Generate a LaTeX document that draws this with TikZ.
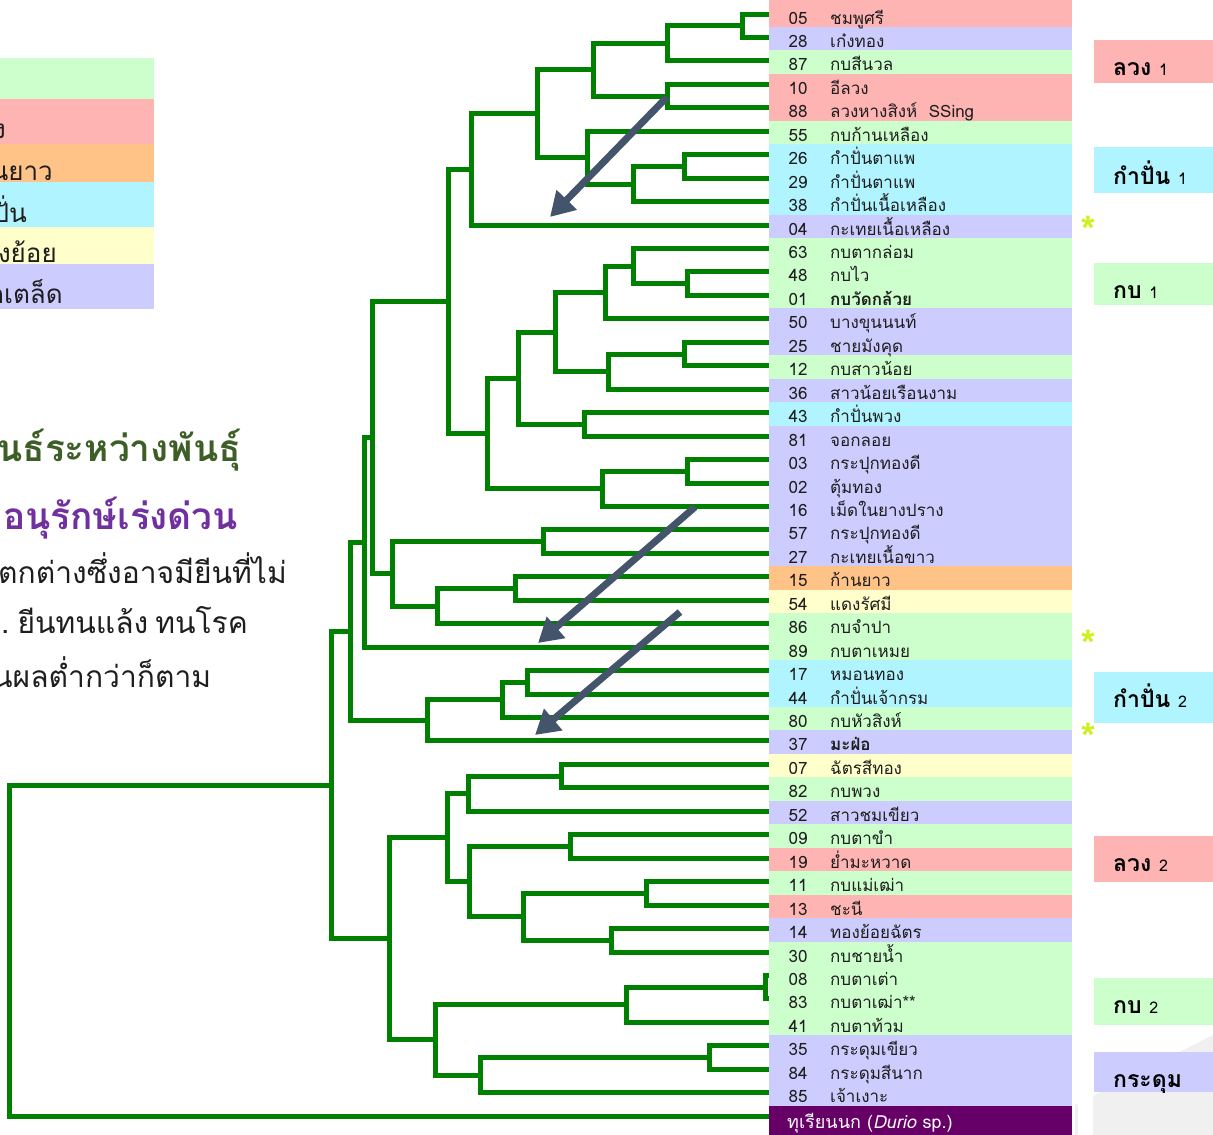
\documentclass[tikz,border=0pt]{standalone}
\usepackage{fontspec}
\setmainfont[Script=Thai]{Loma}
\newfontfamily\symfont{Liberation Sans}
\usetikzlibrary{calc,arrows.meta}
\definecolor{treegreen}{HTML}{008000}
\definecolor{pk}{HTML}{FFB4B4}
\definecolor{lv}{HTML}{CCCCFF}
\definecolor{gr}{HTML}{CCFFCC}
\definecolor{cy}{HTML}{B0F4FF}
\definecolor{orc}{HTML}{FFC387}
\definecolor{yl}{HTML}{FFFFCC}
\definecolor{du}{HTML}{660066}
\definecolor{arrc}{HTML}{44546A}
\definecolor{titlegreen}{HTML}{3D5E27}
\definecolor{titlepurple}{HTML}{7030A0}
\definecolor{astc}{HTML}{CCF020}
\definecolor{txt}{HTML}{1E1E1E}
\newcommand\jn[4]{\path let \p1=($(#3)!.5!(#4)$) in coordinate (#1) at (#2pt,\y1);
  \draw[tree] (#3) -| (#1) |- (#4);}
\begin{document}
\begin{tikzpicture}[x=1pt,y=-1pt,
  tree/.style={draw=treegreen,line width=5pt},
  arr/.style={draw=arrc,line width=7pt,-{Triangle[length=24pt,width=27pt]}},
  rowtxt/.style={inner sep=0pt,text=txt,font=\fontsize{17}{20}\selectfont},
  grptxt/.style={inner sep=0pt,anchor=base west,text=black,font=\fontsize{23}{26}\selectfont\bfseries},
  legtxt/.style={inner sep=0pt,anchor=base east,text=txt,font=\fontsize{26}{30}\selectfont},
  bodytxt/.style={inner sep=0pt,anchor=base west,text=txt,font=\fontsize{30}{34}\selectfont},
  ast/.style={inner sep=0pt,text=astc,font=\symfont\bfseries\fontsize{34}{34}\selectfont}]
\useasboundingbox (0,0) rectangle (1213,1135);
\begin{scope}
\clip (0,0) rectangle (1213,1135);
% background decoration bottom right
\fill[black!6] (1075,1135) -- (1075,1105) -- (1213,1035) -- (1213,1135) -- cycle;
\fill[white] (1078,1092) rectangle (1093,1135);
% legend
\fill[gr] (0,58) rectangle (154,99);
\fill[pk] (0,99) rectangle (154,144);
\fill[orc] (0,144) rectangle (154,182);
\fill[cy] (0,182) rectangle (154,227);
\fill[yl] (0,227) rectangle (154,264);
\fill[lv] (0,264) rectangle (154,309);
\node[legtxt] (lg1) at (6,138) {ง};
\node[legtxt] (lg2) at (53,180) {นยาว};
\node[legtxt] (lg3) at (27,222) {ปั่น};
\node[legtxt] (lg4) at (57,262) {งย้อย};
\node[legtxt] (lg5) at (63,303) {กเตล็ด};
% body text
\node[bodytxt,text=titlegreen,font=\fontsize{37}{40}\selectfont\bfseries] (t1) at (-3,461) {นธ์ระหว่างพันธุ์};
\node[bodytxt,text=titlepurple,font=\fontsize{37}{40}\selectfont\bfseries] (t2) at (3,529) {อนุรักษ์เร่งด่วน};
\node[bodytxt] (t3) at (-2,583) {ตกต่างซึ่งอาจมียีนที่ไม่};
\node[bodytxt] (t4) at (1,633) {.\hspace{8pt}ยีนทนแล้ง\hspace{7pt}ทนโรค};
\node[bodytxt] (t5) at (-8,687) {นผลต่ำกว่าก็ตาม};
% leaf coordinates
\foreach \i in {0,...,47} {\coordinate (L\i) at (769,{14+23.45*\i});}
% tree
\jn{n1}{742}{L0}{L1}
\jn{n2}{667}{n1}{L2}
\jn{n3}{667}{L3}{L4}
\jn{n4}{593}{n2}{n3}
\jn{n5}{684}{L6}{L7}
\jn{n6}{633}{n5}{L8}
\jn{n7}{587}{L5}{n6}
\jn{n8}{537}{n4}{n7}
\jn{n9}{471}{n8}{L9}
\jn{c1}{687}{L11}{L12}
\jn{c2}{633}{L10}{c1}
\jn{c3}{605}{c2}{L13}
\jn{c4}{684}{L14}{L15}
\jn{c5}{608}{c4}{L16}
\jn{c6}{555}{c3}{c5}
\jn{c7}{584}{L17}{L18}
\jn{c8}{518}{c6}{c7}
\jn{c9}{687}{L19}{L20}
\jn{c10}{602}{c9}{L21}
\jn{c11}{487}{c8}{c10}
\jn{m1}{448}{n9}{c11}
\jn{d1}{543}{L22}{L23}
\jn{d2}{515}{L24}{L25}
\jn{d3}{437}{d2}{L26}
\jn{d4}{392}{d1}{d3}
\jn{P}{372}{m1}{d4}
\jn{Q}{364}{P}{L27}
\jn{e1}{527}{L28}{L29}
\jn{e2}{502}{e1}{L30}
\jn{e3}{427}{e2}{L31}
\jn{R}{350}{Q}{e3}
\jn{f1}{561}{L32}{L33}
\jn{f2}{468}{f1}{L34}
\jn{f3}{570}{L35}{L36}
\jn{f4}{646}{L37}{L38}
\jn{f5}{611}{L39}{L40}
\jn{f6}{523}{f4}{f5}
\jn{f7}{469}{f3}{f6}
\jn{U}{447}{f2}{f7}
\jn{g1}{765}{L41}{L42}
\jn{g2}{626}{g1}{L43}
\jn{g3}{709}{L44}{L45}
\jn{g4}{480}{g3}{L46}
\jn{g5}{435}{g2}{g4}
\jn{T}{389}{U}{g5}
\jn{S}{331}{R}{T}
\jn{root}{9}{S}{L47}
% arrows
\coordinate (a1s) at (667,97);  \coordinate (a1e) at (550,217);
\coordinate (a2s) at (695,507); \coordinate (a2e) at (538,643);
\coordinate (a3s) at (680,612); \coordinate (a3e) at (535,735);
\draw[arr] (a1s) -- (a1e);
\draw[arr] (a2s) -- (a2e);
\draw[arr] (a3s) -- (a3e);
% row bands
\fill[pk] (769,0) rectangle (1072,4);
\foreach \i/\c in {0/pk,1/lv,2/gr,3/pk,4/pk,5/gr,6/cy,7/cy,8/cy,9/lv,10/gr,11/gr,12/gr,13/lv,14/lv,15/gr,16/lv,17/cy,18/lv,19/lv,20/lv,21/lv,22/lv,23/lv,24/orc,25/yl,26/gr,27/gr,28/cy,29/cy,30/gr,31/lv,32/yl,33/gr,34/lv,35/gr,36/pk,37/gr,38/pk,39/lv,40/gr,41/gr,42/gr,43/gr,44/lv,45/lv,46/lv}
  {\fill[\c] (769,{14+23.45*\i-10.5}) rectangle (1072,{14+23.45*\i+12.95});}
\fill[du] (769,{14+23.45*47-10.5}) rectangle (1072,1135);
% row texts
\foreach \i/\n/\t in {0/05/ชมพูศรี,1/28/เก๋งทอง,2/87/กบสีนวล,3/10/อีลวง,4/88/ลวงหางสิงห์~~SSing,5/55/กบก้านเหลือง,6/26/กำปั่นตาแพ,7/29/กำปั่นตาแพ,8/38/กำปั่นเนื้อเหลือง,9/04/กะเทยเนื้อเหลือง,10/63/กบตากล่อม,11/48/กบไว,12/01/{\bfseries กบวัดกล้วย},13/50/บางขุนนนท์,14/25/ชายมังคุด,15/12/กบสาวน้อย,16/36/สาวน้อยเรือนงาม,17/43/กำปั่นพวง,18/81/จอกลอย,19/03/กระปุกทองดี,20/02/ตุ้มทอง,21/16/เม็ดในยางปราง,22/57/กระปุกทองดี,23/27/กะเทยเนื้อขาว,24/15/ก้านยาว,25/54/แดงรัศมี,26/86/กบจำปา,27/89/กบตาเหมย,28/17/หมอนทอง,29/44/กำปั่นเจ้ากรม,30/80/กบหัวสิงห์,31/37/{\bfseries มะฝ่อ},32/07/ฉัตรสีทอง,33/82/กบพวง,34/52/สาวชมเขียว,35/09/กบตาขำ,36/19/ย่ำมะหวาด,37/11/กบแม่เฒ่า,38/13/ชะนี,39/14/ทองย้อยฉัตร,40/30/กบชายน้ำ,41/08/กบตาเต่า,42/83/กบตาเฒ่า**,43/41/กบตาท้วม,44/35/กระดุมเขียว,45/84/กระดุมสีนาก,46/85/เจ้าเงาะ}
  {\node[rowtxt,anchor=base] (num\i) at (798,{14+23.45*\i+10}) {\n};
   \node[rowtxt,anchor=base west] (nm\i) at (830,{14+23.45*\i+10}) {\t};}
\node[rowtxt,anchor=base west,text=white,font=\fontsize{18}{20}\selectfont] (durio) at (787,{14+23.45*47+12}) {ทุเรียนนก (\textit{Durio} sp.)};
% group labels
\fill[pk] (1094,40) rectangle (1213,83);
\fill[cy] (1094,147) rectangle (1213,193);
\fill[gr] (1094,263) rectangle (1213,305);
\fill[cy] (1094,672) rectangle (1213,723);
\fill[pk] (1094,836) rectangle (1213,882);
\fill[gr] (1094,978) rectangle (1213,1025);
\fill[lv] (1094,1052) rectangle (1213,1092);
\node[grptxt] (g-l1) at (1113,75) {ลวง {\mdseries\fontsize{16}{18}\selectfont 1}};
\node[grptxt] (g-k1) at (1113,184) {กำปั่น {\mdseries\fontsize{16}{18}\selectfont 1}};
\node[grptxt] (g-b1) at (1113,298) {กบ {\mdseries\fontsize{16}{18}\selectfont 1}};
\node[grptxt] (g-k2) at (1113,707) {กำปั่น {\mdseries\fontsize{16}{18}\selectfont 2}};
\node[grptxt] (g-l2) at (1113,871) {ลวง {\mdseries\fontsize{16}{18}\selectfont 2}};
\node[grptxt] (g-b2) at (1113,1013) {กบ {\mdseries\fontsize{16}{18}\selectfont 2}};
\node[grptxt] (g-kd) at (1113,1087) {กระดุม};
\node[ast] (s1) at (1088,228) {*};
\node[ast] (s2) at (1088,642) {*};
\node[ast] (s3) at (1088,735) {*};
\end{scope}
\end{tikzpicture}
\end{document}
